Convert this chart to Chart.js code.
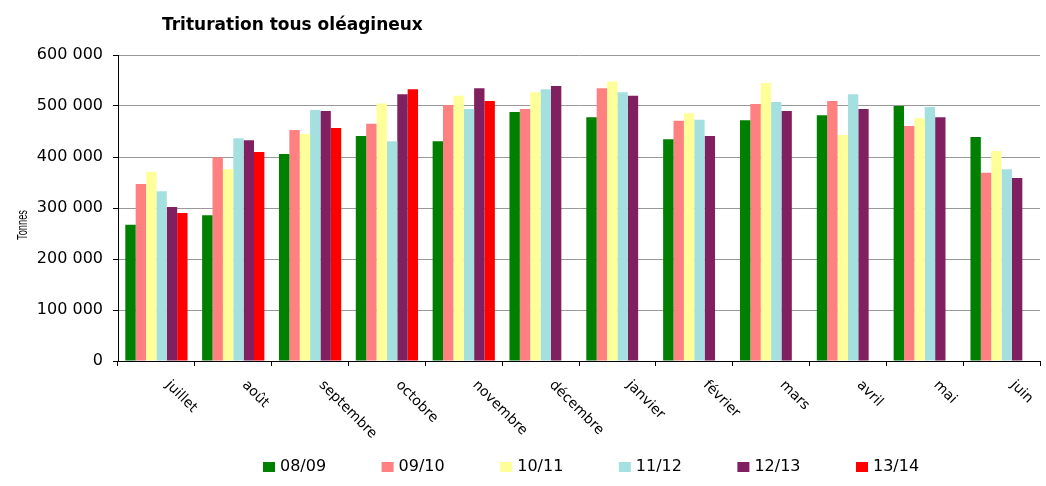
<!DOCTYPE html>
<html lang="fr">
<head>
<meta charset="utf-8">
<title>Trituration tous oléagineux</title>
<script src="https://cdn.jsdelivr.net/npm/chart.js@4"></script>
<style>
  html, body { margin: 0; padding: 0; background: #fff; }
  #wrap { width: 1046px; height: 486px; position: relative; }
</style>
</head>
<body>
<div id="wrap"><canvas id="triturationChart"></canvas></div>
<script>
const months = ['juillet', 'août', 'septembre', 'octobre', 'novembre', 'décembre',
    'janvier', 'février', 'mars', 'avril', 'mai', 'juin'];
const seasons = ['08/09', '09/10', '10/11', '11/12', '12/13', '13/14'];

// Tonnes par mois
const s0809 = [267000, 286000, 406000, 441000, 431000, 488000, 478000, 435000, 472000, 482000, 500000, 439000];
const s0910 = [347000, 399000, 453000, 465000, 502000, 494000, 535000, 471000, 504000, 510000, 461000, 369000];
const s1011 = [371000, 376000, 445000, 505000, 520000, 527000, 548000, 486000, 545000, 443000, 476000, 412000];
const s1112 = [333000, 437000, 492000, 431000, 494000, 533000, 527000, 473000, 508000, 523000, 498000, 376000];
const s1213 = [302000, 433000, 490000, 523000, 535000, 539000, 520000, 441000, 490000, 494000, 478000, 359000];
const s1314 = [290000, 410000, 457000, 533000, 510000, null, null, null, null, null, null, null];

const seasonColors = ['#008000', '#FF8080', '#FFFF99', '#A5E0E0', '#802060', '#FF0000'];

const formatTonnes = v => String(v).replace(/\B(?=(\d{3})+(?!\d))/g, ' ');

// title, rotated month labels, axis title and legend drawn by hand
const decorPlugin = {
    id: 'decor',
    afterDraw(chart) {
        const ctx = chart.ctx;
        const xScale = chart.scales.x;
        ctx.save();
        ctx.fillStyle = '#000';

        ctx.font = 'bold 17px "DejaVu Sans"';
        ctx.textAlign = 'left';
        ctx.textBaseline = 'alphabetic';
        ctx.fillText('Trituration tous oléagineux', 162, 30);

        ctx.font = '14px "DejaVu Sans"';
        ctx.textBaseline = 'top';
        months.forEach((m, i) => {
            const px = xScale.getPixelForValue(i);
            ctx.save();
            ctx.translate(px + 16, xScale.top + 17);
            ctx.rotate(Math.PI / 4);
            ctx.fillText(m, 0, 0);
            ctx.restore();
        });

        ctx.save();
        ctx.translate(23, 225);
        ctx.rotate(-Math.PI / 2);
        ctx.scale(0.62, 1);
        ctx.font = '15px "Liberation Sans"';
        ctx.textAlign = 'center';
        ctx.textBaseline = 'middle';
        ctx.fillText('Tonnes', 0, 0);
        ctx.restore();

        const lx0 = 263, ly = 467, step = 118.6;
        ctx.font = '16px "DejaVu Sans"';
        ctx.textAlign = 'left';
        ctx.textBaseline = 'middle';
        chart.data.datasets.forEach((ds, i) => {
            const lx = lx0 + i * step;
            ctx.fillStyle = ds.backgroundColor;
            ctx.fillRect(lx, ly - 5, 12, 10);
            ctx.fillStyle = '#000';
            ctx.fillText(ds.label, lx + 17, ly);
        });
        ctx.restore();
    }
};

const seriesData = [s0809, s0910, s1011, s1112, s1213, s1314];

new Chart(document.getElementById('triturationChart'), {
    type: 'bar',
    data: {
        labels: months,
        datasets: seasons.map((label, i) => ({
            label: label,
            data: seriesData[i],
            backgroundColor: seasonColors[i],
            borderWidth: 0,
            categoryPercentage: 0.81,
            barPercentage: 1.0
        }))
    },
    options: {
        responsive: true,
        maintainAspectRatio: false,
        animation: false,
        devicePixelRatio: 1,
        layout: { padding: { top: 55, right: 6, left: 0, bottom: 0 } },
        plugins: {
            legend: { display: false },
            tooltip: { enabled: false },
            title: { display: false }
        },
        scales: {
            x: {
                offset: true,
                afterFit: s => { s.height = 125; },
                ticks: { display: false },
                grid: { drawOnChartArea: false, offset: true, tickLength: 5, tickColor: '#000' },
                border: { color: '#000', width: 1 }
            },
            y: {
                min: 0,
                max: 600000,
                afterFit: s => { s.width = 118; },
                ticks: {
                    stepSize: 100000,
                    color: '#000',
                    padding: 10,
                    font: { family: 'DejaVu Sans', size: 16 },
                    callback: v => formatTonnes(v)
                },
                grid: { color: '#999', lineWidth: 1, tickLength: 5, tickColor: '#000' },
                border: { color: '#000', width: 1 }
            }
        }
    },
    plugins: [decorPlugin]
});
</script>
</body>
</html>
